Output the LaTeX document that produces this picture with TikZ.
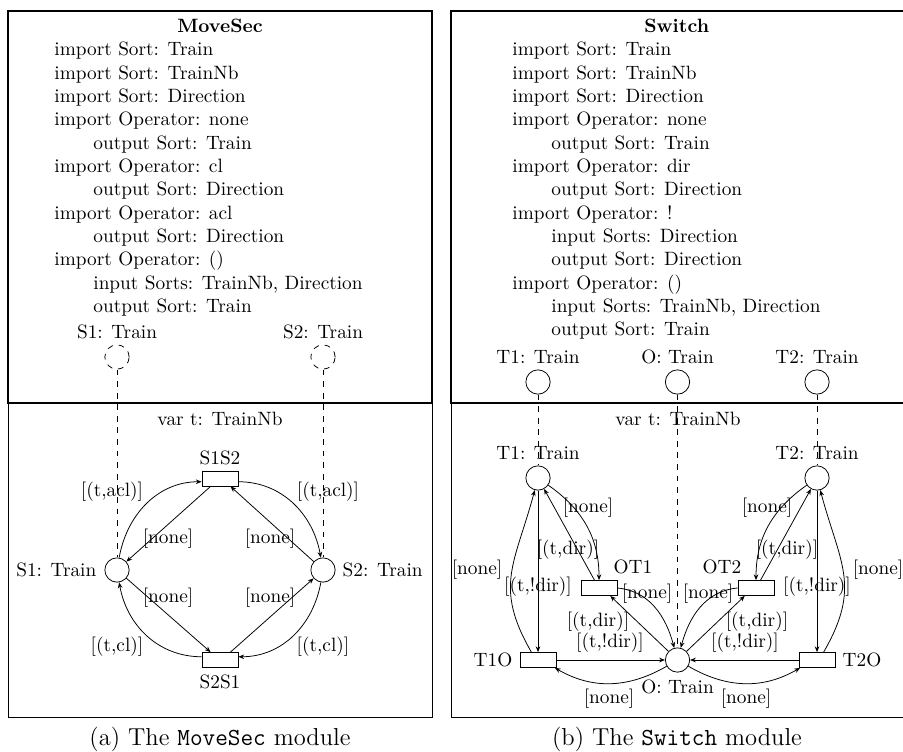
\documentclass[tikz,border=0pt]{standalone}
\usetikzlibrary{arrows.meta}
\begin{document}
\begin{tikzpicture}[x=0.5181pt,y=-0.5181pt,
  pl/.style={circle,draw,minimum size=12.6pt,inner sep=0pt},
  ipl/.style={pl,dashed},
  tr/.style={rectangle,draw,minimum width=18.65pt,minimum height=7.77pt,inner sep=0pt},
  lbl/.style={inner sep=0pt},
  txtline/.style={anchor=base west,inner sep=0pt},
  flow/.style={-{Stealth[length=3pt,width=2.4pt]}},
  link/.style={dashed},
  thinframe/.style={line width=0.4pt},
  thickframe/.style={line width=1.4pt},
  captxt/.style={font=\fontsize{12.7}{15}\selectfont,inner sep=0pt}
]
\useasboundingbox (0,0) rectangle (903,752);
\clip (0,0) rectangle (903,752);

% ---------------- frames ----------------
\draw[thinframe] (8,11) rectangle (432,717);
\draw[thickframe] (8,11) rectangle (432,403);
\draw[thinframe] (451,11) rectangle (915,717);
\draw[thickframe] (451,11) rectangle (915,403);

% ---------------- MoveSec interface ----------------
\node[lbl,anchor=base,font=\bfseries] (mT) at (220,32.5) {MoveSec};
\node[txtline] (m1) at (54,55.9) {import Sort: Train};
\node[txtline] (m2) at (54,79.2) {import Sort: TrainNb};
\node[txtline] (m3) at (54,102.6) {import Sort: Direction};
\node[txtline] (m4) at (54,125.9) {import Operator: none};
\node[txtline] (m5) at (93,149.2) {output Sort: Train};
\node[txtline] (m6) at (54,172.6) {import Operator: cl};
\node[txtline] (m7) at (93,195.9) {output Sort: Direction};
\node[txtline] (m8) at (54,219.2) {import Operator: acl};
\node[txtline] (m9) at (93,242.5) {output Sort: Direction};
\node[txtline] (m10) at (54,265.9) {import Operator: ()};
\node[txtline] (m11) at (93,289.2) {input Sorts: TrainNb, Direction};
\node[txtline] (m12) at (93,312.5) {output Sort: Train};

\node[lbl] (S1ilab) at (117,332) {S1: Train};
\node[lbl] (S2ilab) at (323,332) {S2: Train};
\node[ipl] (S1i) at (117,357) {};
\node[ipl] (S2i) at (323,357) {};

% ---------------- MoveSec net ----------------
\node[lbl] (mvar) at (220,419) {var t: TrainNb};
\node[pl] (S1) at (117,570) {};
\node[pl] (S2) at (323,570) {};
\node[lbl,anchor=east] (S1lab) at (96.7,570) {S1: Train};
\node[lbl,anchor=west] (S2lab) at (342.3,570) {S2: Train};
\node[tr] (S1S2) at (220,478.5) {};
\node[tr] (S2S1) at (220,660) {};
\node[lbl] (S1S2lab) at (220,458) {S1S2};
\node[lbl] (S2S1lab) at (220,682) {S2S1};

\draw[link] (S1i) -- (S1);
\draw[link] (S2i) -- (S2);

\draw[flow] (S1) to[out=80,in=180] (S1S2.190);
\draw[flow] (S1S2.-10) to[out=0,in=100] (S2);
\draw[flow] (S1S2.220) -- (S1);
\draw[flow] (S2) -- (S1S2.-37);
\draw[flow] (S1) -- (S2S1.140);
\draw[flow] (S2S1.37) -- (S2);
\draw[flow] (S2S1.170) to[out=180,in=-80] (S1);
\draw[flow] (S2) to[out=-100,in=0] (S2S1.10);

\node[lbl] (la1) at (112,492) {[(t,acl)]};
\node[lbl] (la2) at (328,492) {[(t,acl)]};
\node[lbl] (la3) at (168,539) {[none]};
\node[lbl] (la4) at (270,539) {[none]};
\node[lbl] (la5) at (168,598) {[none]};
\node[lbl] (la6) at (270,598) {[none]};
\node[lbl] (la7) at (117,647) {[(t,cl)]};
\node[lbl] (la8) at (323,647) {[(t,cl)]};

\node[captxt] (capa) at (220,739) {(a) The \texttt{MoveSec} module};

% ---------------- Switch interface ----------------
\node[lbl,anchor=base,font=\bfseries] (sT) at (676.7,32.5) {Switch};
\node[txtline] (s1) at (512,55.9) {import Sort: Train};
\node[txtline] (s2) at (512,79.2) {import Sort: TrainNb};
\node[txtline] (s3) at (512,102.6) {import Sort: Direction};
\node[txtline] (s4) at (512,125.9) {import Operator: none};
\node[txtline] (s5) at (551,149.2) {output Sort: Train};
\node[txtline] (s6) at (512,172.6) {import Operator: dir};
\node[txtline] (s7) at (551,195.9) {output Sort: Direction};
\node[txtline] (s8) at (512,219.2) {import Operator: !};
\node[txtline] (s9) at (551,242.5) {input Sorts: Direction};
\node[txtline] (s10) at (551,265.9) {output Sort: Direction};
\node[txtline] (s11) at (512,289.2) {import Operator: ()};
\node[txtline] (s12) at (551,312.5) {input Sorts: TrainNb, Direction};
\node[txtline] (s13) at (551,335.9) {output Sort: Train};

\node[lbl] (T1ilab) at (538,357) {T1: Train};
\node[lbl] (Oilab) at (677.5,357) {O: Train};
\node[lbl] (T2ilab) at (817,357) {T2: Train};
\node[pl] (T1i) at (538,382) {};
\node[pl] (Oi) at (677.5,382) {};
\node[pl] (T2i) at (817,382) {};

% ---------------- Switch net ----------------
\node[lbl] (svar) at (678,419) {var t: TrainNb};
\node[pl] (T1) at (538,478) {};
\node[pl] (T2) at (817,478) {};
\node[pl] (O) at (677.5,660) {};
\node[lbl] (T1lab) at (538,453) {T1: Train};
\node[lbl] (T2lab) at (817,453) {T2: Train};
\node[lbl] (Olab) at (677.5,687) {O: Train};
\node[tr] (OT1) at (599,588) {};
\node[tr] (OT2) at (756,588) {};
\node[tr] (T1O) at (538,660) {};
\node[tr] (T2O) at (817,660) {};
\node[lbl] (OT1lab) at (633,567) {OT1};
\node[lbl] (OT2lab) at (722,567) {OT2};
\node[lbl] (T1Olab) at (493,660) {T1O};
\node[lbl] (T2Olab) at (862,660) {T2O};

\draw[link] (T1i) -- (T1);
\draw[link] (Oi) -- (O);
\draw[link] (T2i) -- (T2);

% left half
\draw[flow] (T1) -- (T1O);
\draw[flow] (T1O.130) to[out=120,in=-105,looseness=1.2] (T1);
\draw[flow] (OT1.120) -- (T1);
\draw[flow] (T1) to[out=-35,in=90] (OT1);
\draw[flow] (OT1.east) to[out=-5,in=105] (O);
\draw[flow] (O) -- (OT1.-35);
\draw[flow] (T1O) -- (O);
\draw[flow] (O) to[out=-150,in=-30] (T1O.-25);
% right half
\draw[flow] (T2) -- (T2O);
\draw[flow] (T2O.50) to[out=60,in=-75,looseness=1.2] (T2);
\draw[flow] (OT2.60) -- (T2);
\draw[flow] (T2) to[out=-145,in=90] (OT2);
\draw[flow] (OT2.west) to[out=-175,in=75] (O);
\draw[flow] (O) -- (OT2.-145);
\draw[flow] (T2O) -- (O);
\draw[flow] (O) to[out=-30,in=-150] (T2O.-155);

\node[lbl] (lb1) at (477,570) {[none]};
\node[lbl] (lb2) at (538,587) {[(t,!dir)]};
\node[lbl] (lb3) at (568,550) {[(t,dir)]};
\node[lbl] (lb4) at (588,508) {[none]};
\node[lbl] (lb5) at (647,594) {[none]};
\node[lbl] (lb6) at (598,622) {[(t,dir)]};
\node[lbl] (lb7) at (610,643) {[(t,!dir)]};
\node[lbl] (lb8) at (609,699) {[none]};

\node[lbl] (lc1) at (878,570) {[none]};
\node[lbl] (lc2) at (817,587) {[(t,!dir)]};
\node[lbl] (lc3) at (787,550) {[(t,dir)]};
\node[lbl] (lc4) at (767,508) {[none]};
\node[lbl] (lc5) at (708,594) {[none]};
\node[lbl] (lc6) at (757,622) {[(t,dir)]};
\node[lbl] (lc7) at (745,643) {[(t,!dir)]};
\node[lbl] (lc8) at (746,699) {[none]};

\node[captxt] (capb) at (677,739) {(b) The \texttt{Switch} module};
\end{tikzpicture}
\end{document}
